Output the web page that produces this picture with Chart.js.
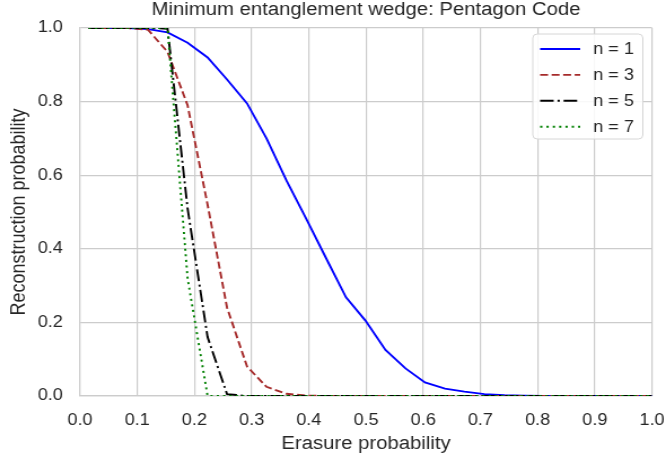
<!DOCTYPE html>
<html>
<head>
<meta charset="utf-8">
<script src="https://cdn.jsdelivr.net/npm/chart.js@4.4.1/dist/chart.umd.min.js"></script>
<style>
  html, body { margin: 0; padding: 0; background: #fff; overflow: hidden; }
  #wrap { width: 666px; height: 461px; overflow: hidden; }
  /* the figure is drawn narrow and widened to 666px */
  #chart { transform-origin: 0 0; transform: scaleX(1.1288); }
</style>
</head>
<body>
<div id="wrap"><canvas id="chart" width="590" height="461"></canvas></div>
<script>
const erasureProb = [0.015, 0.050, 0.084, 0.119, 0.153, 0.188, 0.223, 0.257, 0.292, 0.326,
                     0.361, 0.396, 0.430, 0.465, 0.499, 0.534, 0.569, 0.603, 0.638, 0.672,
                     0.707, 0.742, 0.776, 0.811, 0.845, 0.880, 0.915, 0.949, 0.984, 1.000];

const reconN1 = [1.0, 1.0, 1.0, 0.997, 0.988, 0.96, 0.92, 0.86, 0.795, 0.70,
                 0.585, 0.48, 0.375, 0.268, 0.205, 0.125, 0.075, 0.037, 0.02, 0.012,
                 0.005, 0.002, 0.001, 0, 0, 0, 0, 0, 0, 0];
const reconN3 = [1.0, 1.0, 1.0, 0.995, 0.935, 0.79, 0.52, 0.24, 0.08, 0.025,
                 0.006, 0.001, 0, 0, 0, 0, 0, 0, 0, 0,
                 0, 0, 0, 0, 0, 0, 0, 0, 0, 0];
const reconN5 = [1.0, 1.0, 1.0, 1.0, 0.998, 0.51, 0.16, 0.005, 0, 0,
                 0, 0, 0, 0, 0, 0, 0, 0, 0, 0,
                 0, 0, 0, 0, 0, 0, 0, 0, 0, 0];
const reconN7 = [1.0, 1.0, 1.0, 1.0, 1.0, 0.32, 0, 0, 0, 0,
                 0, 0, 0, 0, 0, 0, 0, 0, 0, 0,
                 0, 0, 0, 0, 0, 0, 0, 0, 0, 0];

const seriesLabels = ["n = 1", "n = 3", "n = 5", "n = 7"];
const titleText = "Minimum entanglement wedge: Pentagon Code";

const textColor = "#262626";
const gridColor = "#cccccc";
const fontFamily = "'Liberation Sans', Arial, sans-serif";

Chart.defaults.font.family = fontFamily;
Chart.defaults.color = textColor;

const toPoints = ys => erasureProb.map((x, i) => ({ x, y: ys[i] }));

// title centred over the plot area, legend box in the upper right corner
const decorPlugin = {
  id: "decor",
  afterDraw(chart) {
    const { ctx, chartArea } = chart;
    ctx.save();
    ctx.fillStyle = textColor;
    ctx.font = `18px ${fontFamily}`;
    ctx.textAlign = "center";
    ctx.textBaseline = "alphabetic";
    ctx.fillText(titleText, (chartArea.left + chartArea.right) / 2, 15);

    const bx = 472, by = 34, bw = 97.5, bh = 105;
    ctx.beginPath();
    ctx.roundRect(bx, by, bw, bh, 4);
    ctx.fillStyle = "rgba(255,255,255,0.85)";
    ctx.fill();
    ctx.strokeStyle = "#d6d6d6";
    ctx.lineWidth = 1;
    ctx.stroke();

    ctx.font = `16px ${fontFamily}`;
    ctx.textAlign = "left";
    ctx.textBaseline = "middle";
    chart.data.datasets.forEach((ds, i) => {
      const y = 49 + i * 25.9;
      ctx.beginPath();
      ctx.setLineDash(ds.borderDash || []);
      ctx.strokeStyle = ds.borderColor;
      ctx.lineWidth = ds.borderWidth;
      ctx.moveTo(478.5, y);
      ctx.lineTo(514, y);
      ctx.stroke();
      ctx.setLineDash([]);
      ctx.fillStyle = textColor;
      ctx.fillText(ds.label, 525.5, y + 0.5);
    });
    ctx.restore();
  }
};

new Chart(document.getElementById("chart"), {
  type: "line",
  data: {
    datasets: [
      { label: seriesLabels[0], data: toPoints(reconN1), borderColor: "#0000ff", borderWidth: 1.9, order: 4 },
      { label: seriesLabels[1], data: toPoints(reconN3), borderColor: "#a52a2a", borderWidth: 1.9, borderDash: [7, 3.2], order: 3 },
      { label: seriesLabels[2], data: toPoints(reconN5), borderColor: "#000000", borderWidth: 1.9, borderDash: [12, 3.4, 2, 3.4], order: 2 },
      { label: seriesLabels[3], data: toPoints(reconN7), borderColor: "#008000", borderWidth: 1.9, borderDash: [2, 3.6], order: 1 }
    ]
  },
  options: {
    responsive: false,
    animation: false,
    devicePixelRatio: 1,
    layout: { padding: { top: 28, right: 12.4, bottom: 0, left: 0 } },
    elements: { point: { radius: 0 }, line: { tension: 0, fill: false } },
    plugins: {
      legend: { display: false },
      tooltip: { enabled: false }
    },
    scales: {
      x: {
        type: "linear",
        min: 0,
        max: 1,
        // fixed band height; end labels may overhang the plot edges
        afterFit: s => { s.height = 65; s.paddingLeft = 0; s.paddingRight = 0; },
        grid: { color: gridColor, lineWidth: 1.2, drawTicks: false },
        border: { color: gridColor, width: 1.2 },
        ticks: {
          stepSize: 0.1,
          padding: 15.4,
          font: { size: 16 },
          color: textColor,
          callback: v => v.toFixed(1)
        },
        title: {
          display: true,
          text: "Erasure probability",
          font: { size: 18 },
          color: textColor,
          padding: { top: 0, bottom: 5.7 }
        }
      },
      y: {
        min: 0,
        max: 1,
        afterFit: s => { s.width = 70.9; s.paddingTop = 0; s.paddingBottom = 0; },
        grid: { color: gridColor, lineWidth: 1.2, drawTicks: false },
        border: { color: gridColor, width: 1.2 },
        ticks: {
          stepSize: 0.2,
          padding: 15.2,
          font: { size: 16 },
          color: textColor,
          callback: v => v.toFixed(1)
        },
        title: {
          display: true,
          text: "Reconstruction probability",
          font: { size: 18 },
          color: textColor,
          padding: { top: 6.5, bottom: 0 }
        }
      }
    }
  },
  plugins: [decorPlugin]
});
</script>
</body>
</html>
